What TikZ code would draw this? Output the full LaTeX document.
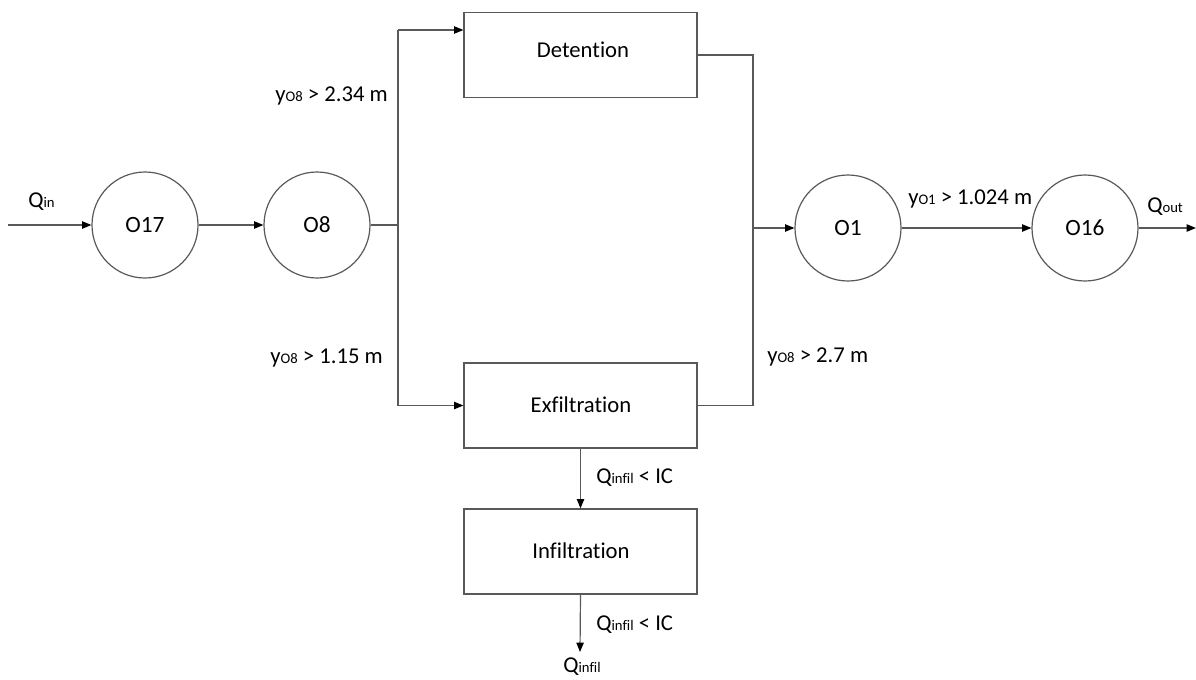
\documentclass[tikz,border=0pt]{standalone}
\usepackage{fontspec}
\setmainfont{Carlito}[Ligatures=NoCommon]
\usetikzlibrary{arrows.meta}
\definecolor{linegray}{RGB}{89,89,89}
\newcommand{\lsub}[1]{{\fontsize{11pt}{13pt}\selectfont #1}}
\tikzset{
  wire/.style={draw=linegray, line width=0.9pt},
  flow/.style={wire, -{Triangle[length=7pt,width=5.5pt,color=black,fill=black]}},
  junction/.style={circle, draw=linegray, line width=0.9pt, minimum size=79.5pt, inner sep=0pt,
                   font=\fontsize{17.5pt}{20pt}\selectfont},
  unit/.style={rectangle, draw=linegray, line width=0.9pt, minimum width=174.75pt, minimum height=63.75pt,
               inner sep=0pt},
  unitlbl/.style={inner sep=0pt, anchor=base, font=\fontsize{17pt}{20pt}\selectfont},
  lbl/.style={inner sep=0pt, font=\fontsize{17pt}{20pt}\selectfont}
}
\begin{document}
\begin{tikzpicture}[x=0.75pt, y=-0.75pt]
\useasboundingbox (0,0) rectangle (1196,679);

% junctions
\node[junction] (o17) at (145,225) {O17};
\node[junction] (o8)  at (317,225) {O8};
\node[junction] (o1)  at (848,228) {O1};
\node[junction] (o16) at (1085,228) {O16};

% storage units
\node[unit] (det) at (580.5,55)  {};
\node[unit] (exf) at (580.5,405.5) {};
\node[unit] (inf) at (580.5,551.5) {};
\node[unitlbl] at (583,57)  {Detention};
\node[unitlbl] at (581,412) {Exfiltration};
\node[unitlbl] at (581,558) {Infiltration};

% free ends and bends
\coordinate (qin)   at (8,225);
\coordinate (split) at (398,225);
\coordinate (splittop) at (398,30);
\coordinate (merge) at (753,228);
\coordinate (qout)  at (1196,228);
\coordinate (qinf)  at (580,652);

% main line
\draw[flow] (qin) -- (o17);
\draw[flow] (o17) -- (o8);
\draw[wire] (o8) -- (split);
\draw[wire] (split) -- (splittop);
\draw[flow] (splittop) -- (splittop -| det.west);
\draw[flow] (split) |- (exf.west);
\draw[wire] (det.east) -| (merge);
\draw[wire] (exf.east) -| (merge);
\draw[flow] (merge) -- (o1);
\draw[flow] (o1) -- (o16);
\draw[flow] (o16) -- (qout);
\draw[flow] (exf.south) -- (inf.north);
\draw[flow] (inf.south) -- (qinf);

% labels
\node[lbl, anchor=base] at (41.5,207) {Q\lsub{in}};
\node[lbl, anchor=base east] at (388,101) {y\lsub{O8} > 2.34 m};
\node[lbl, anchor=base east] at (383,363) {y\lsub{O8} > 1.15 m};
\node[lbl, anchor=base west] at (767,362) {y\lsub{O8} > 2.7 m};
\node[lbl, anchor=base west] at (908,204) {y\lsub{O1} > 1.024 m};
\node[lbl, anchor=base west] at (1147,212) {Q\lsub{out}};
\node[lbl, anchor=base west] at (596,483) {Q\lsub{infil} < IC};
\node[lbl, anchor=base west] at (596,630) {Q\lsub{infil} < IC};
\node[lbl, anchor=base] at (582,672) {Q\lsub{infil}};
\end{tikzpicture}
\end{document}
